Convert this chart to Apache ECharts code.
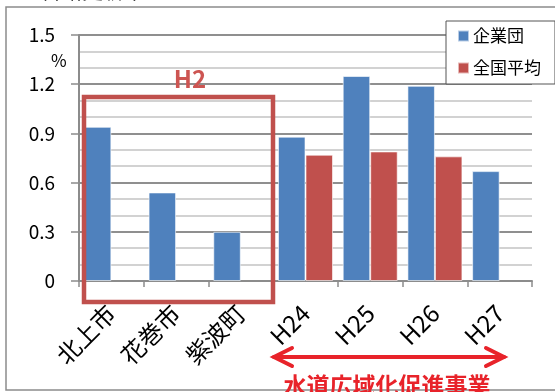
<!DOCTYPE html>
<html>
<head>
<meta charset="utf-8">
<script src="https://cdn.jsdelivr.net/npm/echarts@6/dist/echarts.min.js"></script>
<style>
  html, body { margin: 0; padding: 0; background: #fff; }
  #chart { width: 555px; height: 392px; }
</style>
</head>
<body>
<div id="chart"></div>
<script>
// Pipe renewal rate (%) by municipality and by fiscal year
const categories = ['北上市', '花巻市', '紫波町', 'H24', 'H25', 'H26', 'H27'];
const kigyodan = [0.94, 0.54, 0.30, 0.88, 1.25, 1.19, 0.67];
const zenkokuHeikin = [null, null, null, 0.77, 0.79, 0.76, null];
const seriesNames = ['企業団', '全国平均'];

const FONT = '"Noto Sans CJK JP", "Noto Sans", sans-serif';
const BLUE = '#4f81bd';
const RED = '#c0504d';
const ARROW_RED = '#e8232a';

const chart = echarts.init(document.getElementById('chart'), null, { renderer: 'canvas' });

chart.setOption({
  animation: false,
  backgroundColor: '#fff',
  textStyle: { fontFamily: FONT },
  grid: { left: 79, right: 23, top: 35, bottom: 111, containLabel: false, outerBoundsMode: 'none' },
  legend: {
    orient: 'vertical',
    left: 446,
    top: 21,
    data: seriesNames,
    icon: 'rect',
    itemWidth: 11,
    itemHeight: 11,
    itemGap: 14,
    padding: [6, 14, 7, 11],
    borderColor: '#555',
    borderWidth: 1,
    backgroundColor: '#fff',
    textStyle: { fontFamily: FONT, fontSize: 17, color: '#000', padding: [0, 0, 0, -1], lineHeight: 18 }
  },
  xAxis: {
    type: 'category',
    data: categories,
    axisLine: { lineStyle: { color: '#8c8c8c', width: 2 } },
    axisTick: { show: true, length: 6, lineStyle: { color: '#8c8c8c', width: 1.5 } },
    axisLabel: {
      rotate: 45, interval: 0, margin: 28, hideOverlap: false,
      fontSize: 24, color: '#000', fontFamily: FONT
    }
  },
  yAxis: {
    type: 'value',
    min: 0,
    max: 1.5,
    interval: 0.3,
    axisLine: { show: true, lineStyle: { color: '#8c8c8c', width: 2 } },
    axisTick: { show: true, length: 8, lineStyle: { color: '#8c8c8c', width: 1.5 } },
    axisLabel: { margin: 24, fontSize: 19, color: '#000', fontFamily: FONT },
    splitLine: { show: true, lineStyle: { color: '#8f8f8f', width: 2 } },
    minorTick: { show: false, splitNumber: 3 },
    minorSplitLine: { show: true, lineStyle: { color: '#c4c4c4', width: 1.5 } }
  },
  series: [
    {
      name: seriesNames[0],
      type: 'bar',
      data: kigyodan,
      barGap: '0%',
      barCategoryGap: '15%',
      itemStyle: { color: BLUE, borderColor: 'rgba(255,255,255,0.6)', borderWidth: 1 },
      z: 2
    },
    {
      name: seriesNames[1],
      type: 'bar',
      data: zenkokuHeikin,
      barGap: '0%',
      barCategoryGap: '15%',
      itemStyle: { color: RED, borderColor: 'rgba(255,255,255,0.6)', borderWidth: 1 },
      z: 2
    }
  ],
  graphic: [
    // outer chart frame
    { type: 'rect', z: 0, silent: true,
      shape: { x: 6, y: 7, width: 600, height: 383 },
      style: { fill: 'none', stroke: '#8c8c8c', lineWidth: 1.5 } },
    // heading above the frame
    { type: 'text', left: 40, top: -20, z: 10,
      style: { text: '管路更新率', font: '21px ' + FONT, fill: '#000' } },
    // unit
    { type: 'text', left: 51, top: 52, z: 10,
      style: { text: '%', font: '17px ' + FONT, fill: '#000' } },
    // H2 group box
    { type: 'rect', z: 20, silent: true,
      shape: { x: 84, y: 97, width: 189, height: 205 },
      style: { fill: 'none', stroke: RED, lineWidth: 4.5 } },
    { type: 'text', z: 20, x: 190, y: 67,
      style: { text: 'H2', font: 'bold 24px ' + FONT, fill: '#cd5552', textAlign: 'center', textVerticalAlign: 'top' } },
    // double-headed arrow under the yearly categories
    { type: 'polyline', z: 20,
      shape: { points: [[274, 357], [504, 357]] },
      style: { stroke: ARROW_RED, lineWidth: 4, fill: 'none', lineCap: 'round' } },
    { type: 'polyline', z: 20,
      shape: { points: [[292, 348], [274, 357], [292, 366]] },
      style: { stroke: ARROW_RED, lineWidth: 4, fill: 'none', lineCap: 'round', lineJoin: 'miter' } },
    { type: 'polyline', z: 20,
      shape: { points: [[486, 348], [504, 357], [486, 366]] },
      style: { stroke: ARROW_RED, lineWidth: 4, fill: 'none', lineCap: 'round', lineJoin: 'miter' } },
    { type: 'text', z: 20, x: 387, y: 374,
      style: { text: '水道広域化促進事業', font: 'bold 23px ' + FONT, fill: ARROW_RED, textAlign: 'center', textVerticalAlign: 'top' } }
  ]
});
</script>
</body>
</html>
